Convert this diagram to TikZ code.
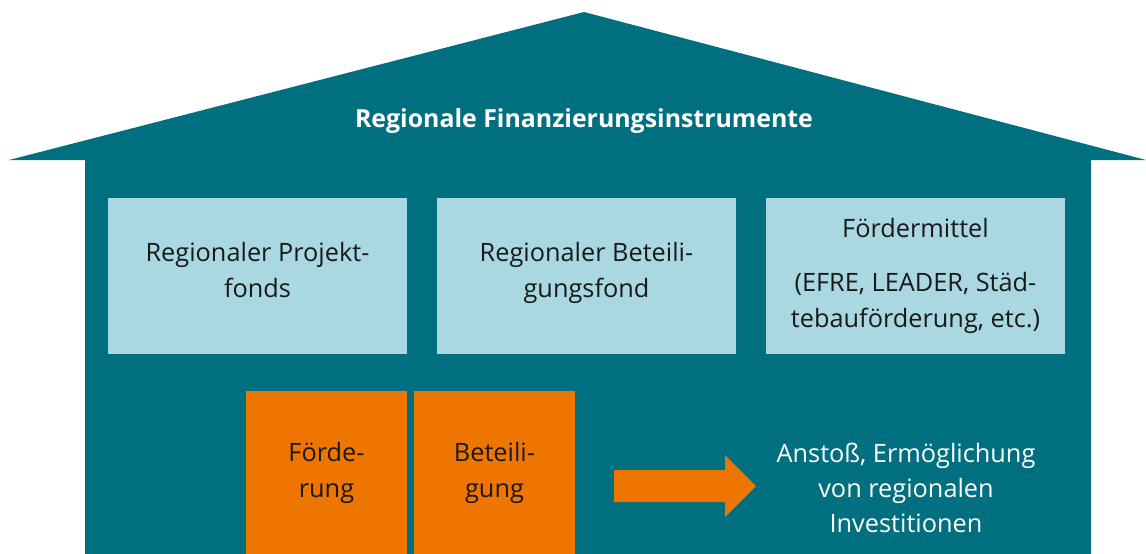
\documentclass[tikz,border=0pt]{standalone}
\usepackage{fontspec}
\setmainfont{Open Sans}
\usetikzlibrary{positioning}
\definecolor{houseteal}{RGB}{0,112,128}
\definecolor{fundblue}{RGB}{169,216,227}
\definecolor{toolorange}{RGB}{238,118,0}

\begin{document}
\begin{tikzpicture}[
    fund box/.style={fill=fundblue,text=black!90,minimum width=7.475cm,minimum height=3.9cm,
      inner sep=0pt,align=center,font=\fontsize{18}{25.6}\selectfont},
    tool box/.style={fill=toolorange,text=black!90,minimum width=4.025cm,minimum height=4.075cm,
      inner sep=0pt,align=center,font=\fontsize{18}{25.6}\selectfont},
    plain text/.style={draw=none,text=white,inner sep=0pt,align=center}
  ]
    \useasboundingbox (0,0) rectangle (28.65,-13.85);

    % House: roof and body
    \fill[houseteal] (0.225,-4.0) -- (14.6,-0.3) -- (28.65,-4.0) -- (27.275,-4.0)
      -- (27.275,-13.85) -- (2.125,-13.85) -- (2.125,-4.0) -- cycle;
    \node[plain text,font=\bfseries\fontsize{17.7}{20}\selectfont] (title) at (14.6,-3.02)
      {Regionale Finanzierungsinstrumente};

    % Upper row of instruments
    \node[fund box,text depth=0.3cm] (PF) at (6.4375,-6.9) {Regionaler Projekt-\\fonds};
    \node[fund box,text depth=0.3cm] (BF) at (14.6625,-6.9) {Regionaler Beteili-\\gungsfond};
    \node[fund box] (FM) at (22.8875,-6.9)
      {Fördermittel\\[0.45cm](EFRE, LEADER, Städ-\\tebauförderung, etc.)};

    % Lower row: kinds of support
    \node[tool box] (FOE) at (8.1625,-11.8125) {Förde-\\rung};
    \node[tool box] (BET) at (12.3625,-11.8125) {Beteili-\\gung};

    % Block arrow towards the effect
    \fill[toolorange] (15.35,-11.75) -- (18.125,-11.75) -- (18.125,-11.375) -- (18.9,-12.15)
      -- (18.125,-12.925) -- (18.125,-12.55) -- (15.35,-12.55) -- cycle;
    \node[plain text,font=\fontsize{18}{25.2}\selectfont] (EFF) at (22.65,-12.2)
      {Anstoß, Ermöglichung\\von regionalen\\Investitionen};

\end{tikzpicture}
\end{document}
